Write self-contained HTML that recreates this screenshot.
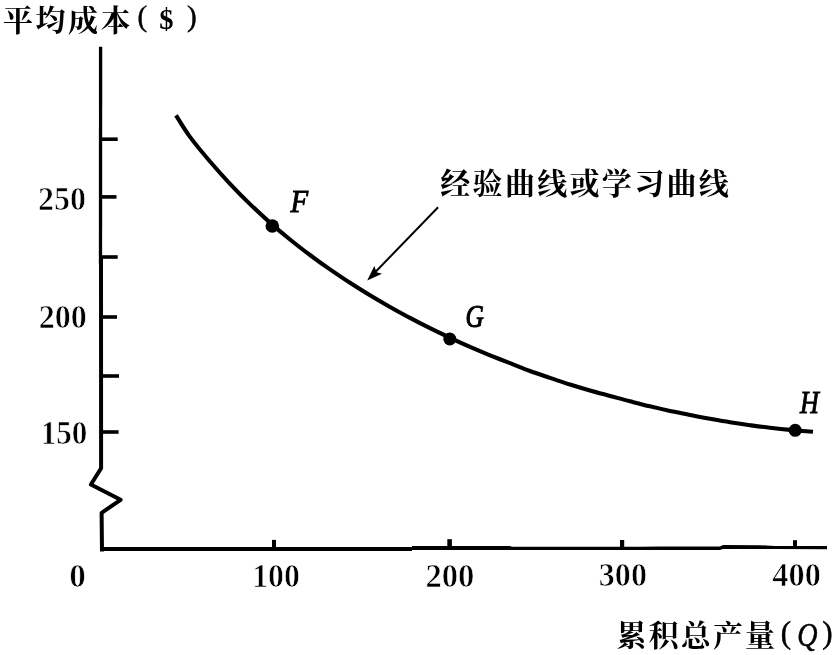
<!DOCTYPE html>
<html lang="zh">
<head>
<meta charset="utf-8">
<title>经验曲线或学习曲线</title>
<style>
html,body{margin:0;padding:0;background:#fff;}
body{width:834px;height:655px;overflow:hidden;}
svg{display:block;}
.cjk{font-family:"Liberation Serif","Noto Serif CJK SC",serif;font-weight:700;fill:#000;}
.par{font-family:"Liberation Serif",serif;font-weight:400;fill:#000;stroke:#000;stroke-width:.5;}
.num{font-family:"Liberation Serif",serif;font-weight:700;fill:#000;stroke:#fff;stroke-width:.7;paint-order:fill stroke;}
.pti{font-family:"Liberation Serif",serif;font-style:italic;font-weight:400;fill:#000;stroke:#000;stroke-width:.95;}
</style>
</head>
<body>
<svg width="834" height="655" viewBox="0 0 834 655">
<rect width="834" height="655" fill="#fff"/>
<!-- axes -->
<g fill="none" stroke="#000" stroke-linecap="butt" stroke-linejoin="miter">
<path d="M100.6 46.8 L100.5 264" stroke-width="3.3"/>
<path d="M101 258 L101.1 468.2 L90.9 484.5 L120.6 499.8 L101.6 512.8 L102 551.4" stroke-width="4" stroke-linejoin="round"/>
<g stroke-width="3.6">
<path d="M100 139.2H117.7"/>
<path d="M100 196.9H116.5"/>
<path d="M100 257H117.7"/>
<path d="M101 317H117"/>
<path d="M101 376H119"/>
<path d="M101 432H118.6"/>
</g>
<path d="M274 549V539.9" stroke-width="4"/>
<path d="M449.6 548V539.2" stroke-width="4.6"/>
<path d="M622.1 548V540" stroke-width="4.2"/>
<path d="M795 547V540.2" stroke-width="4"/>
</g>
<!-- x axis (tapering) -->
<path fill="#000" d="M100 546.9 L412 546.9 L412 545.9 L510 545.9 L512 546.8 L640 546.8 L660 546.4 L720 546.4 L723 545 L760 545.2 L775 546 L827 546 L827 549.3 L775 549.1 L760 548.9 L723 548.9 L720 549.9 L412 549.9 L412 550.9 L100 550.9 Z"/>
<!-- curve -->
<path id="curve" fill="none" stroke="#000" stroke-width="4.1" stroke-linecap="butt" d="M176.0 115.3 C178.3 118.9 184.3 129.2 190.0 136.9 C195.7 144.6 203.3 153.7 210.0 161.5 C216.7 169.3 223.3 176.7 230.0 183.8 C236.7 190.9 243.3 197.6 250.0 204.1 C256.7 210.6 263.3 216.7 270.0 222.6 C276.7 228.5 283.3 234.1 290.0 239.5 C296.7 244.9 303.3 250.1 310.0 255.0 C316.7 260.0 323.3 264.8 330.0 269.4 C336.7 274.0 343.3 278.5 350.0 282.8 C356.7 287.1 363.3 291.3 370.0 295.3 C376.7 299.3 383.3 303.2 390.0 307.0 C396.7 310.7 403.3 314.4 410.0 317.9 C416.7 321.5 423.3 324.9 430.0 328.2 C436.7 331.5 443.3 334.7 450.0 337.8 C456.7 340.9 463.3 343.9 470.0 346.8 C476.7 349.7 483.3 352.5 490.0 355.3 C496.7 358.0 503.3 360.5 510.0 363.2 C516.7 365.8 523.3 368.5 530.0 371.0 C536.7 373.5 543.3 375.6 550.0 377.9 C556.7 380.1 563.3 382.4 570.0 384.5 C576.7 386.6 583.3 388.6 590.0 390.5 C596.7 392.4 603.3 394.1 610.0 395.9 C616.7 397.7 623.3 399.6 630.0 401.3 C636.7 403.0 643.3 404.7 650.0 406.3 C656.7 407.9 663.3 409.4 670.0 410.9 C676.7 412.3 683.3 413.7 690.0 415.0 C696.7 416.4 703.3 417.6 710.0 418.8 C716.7 420.0 723.3 421.2 730.0 422.2 C736.7 423.3 743.3 424.3 750.0 425.2 C756.7 426.1 763.3 427.0 770.0 427.7 C776.7 428.5 782.8 429.2 790.0 429.9 C797.2 430.5 809.2 431.5 813.0 431.8"/>
<circle cx="272.3" cy="226" r="6.8"/>
<circle cx="449.8" cy="339" r="6.5"/>
<circle cx="795.2" cy="430.3" r="6.5"/>
<!-- arrow -->
<path d="M438.1 207.3 L371 276.5" stroke="#000" stroke-width="2" fill="none"/>
<path d="M367.2 280.4 L374.3 266 L376.6 272.2 L382 273.8 Z" fill="#000"/>
<!-- labels -->
<text class="cjk" x="3" y="31" font-size="30" textLength="127.5" lengthAdjust="spacing">平均成本</text>
<text class="par" x="137.5" y="25.5" font-size="29">(</text>
<text class="cjk" x="159.3" y="29.3" font-size="28.5">$</text>
<text class="par" x="187" y="25.5" font-size="29">)</text>
<text class="cjk" x="440.3" y="194" font-size="30" textLength="288.5" lengthAdjust="spacing">经验曲线或学习曲线</text>
<text class="cjk" x="616.5" y="646" font-size="30" textLength="158.6" lengthAdjust="spacing">累积总产量</text>
<text class="par" x="780.7" y="642.5" font-size="31">(</text>
<text class="pti" style="stroke-width:.45" transform="translate(797.3,646.3) scale(1,1.2)" font-size="28">Q</text>
<text class="par" x="822.3" y="642.5" font-size="31">)</text>
<text class="num" x="37.9" y="210.0" font-size="33" textLength="48.0" lengthAdjust="spacingAndGlyphs">250</text>
<text class="num" x="38.7" y="327.8" font-size="33" textLength="48.2" lengthAdjust="spacingAndGlyphs">200</text>
<text class="num" x="40.7" y="444.1" font-size="33" textLength="46.7" lengthAdjust="spacingAndGlyphs">150</text>
<text class="num" x="69.2" y="587.3" font-size="33" textLength="16.6" lengthAdjust="spacingAndGlyphs">0</text>
<text class="num" x="252.2" y="586.5" font-size="33" textLength="47.7" lengthAdjust="spacingAndGlyphs">100</text>
<text class="num" x="425.4" y="586.6" font-size="33" textLength="49.0" lengthAdjust="spacingAndGlyphs">200</text>
<text class="num" x="598.8" y="586.4" font-size="33" textLength="48.2" lengthAdjust="spacingAndGlyphs">300</text>
<text class="num" x="772.3" y="585.5" font-size="33" textLength="48.5" lengthAdjust="spacingAndGlyphs">400</text>
<text class="pti" transform="translate(290.4,211.7) scale(.93,1)" font-size="31">F</text>
<text class="pti" style="stroke-width:1.15" transform="translate(465.6,326.6) scale(.79,1)" font-size="32">G</text>
<text class="pti" transform="translate(800,412.8) scale(.83,1)" font-size="31.5">H</text>
</svg>
</body>
</html>
